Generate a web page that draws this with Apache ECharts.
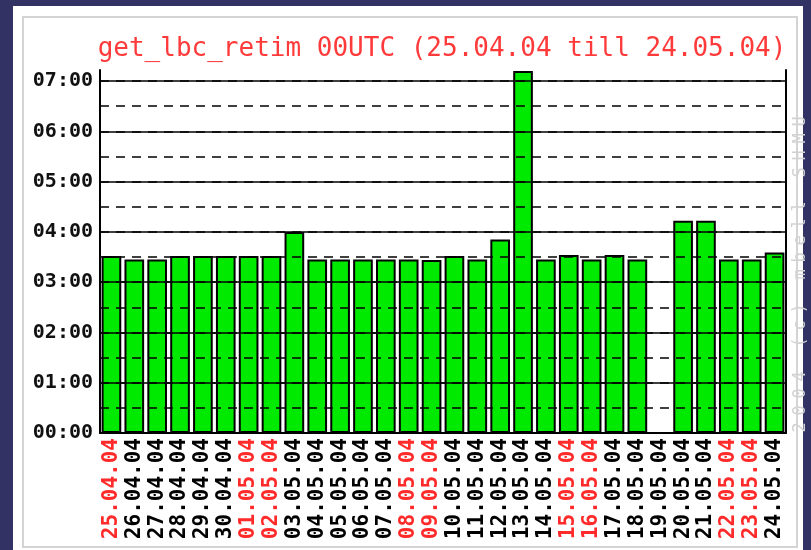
<!DOCTYPE html>
<html>
<head>
<meta charset="utf-8">
<script src="https://cdn.jsdelivr.net/npm/echarts@6/dist/echarts.min.js"></script>
<style>
  body { margin: 0; background: #323264; }
  #panel { position: absolute; left: 13px; top: 6px; width: 790px; height: 544px; background: #fff; }
  #frame { position: absolute; left: 22px; top: 16px; width: 772px; height: 528px; border: 2px solid #d4d4d4; }
  #chart { position: absolute; left: 0; top: 0; width: 811px; height: 550px; }
</style>
</head>
<body>
<div id="panel"></div>
<div id="frame"></div>
<div id="chart"></div>
<script>
// days shown on the x axis
var days = ['25.04.04', '26.04.04', '27.04.04', '28.04.04', '29.04.04', '30.04.04',
  '01.05.04', '02.05.04', '03.05.04', '04.05.04', '05.05.04', '06.05.04', '07.05.04',
  '08.05.04', '09.05.04', '10.05.04', '11.05.04', '12.05.04', '13.05.04', '14.05.04',
  '15.05.04', '16.05.04', '17.05.04', '18.05.04', '19.05.04', '20.05.04', '21.05.04',
  '22.05.04', '23.05.04', '24.05.04'];

// weekend / holiday days drawn in red
var redDays = ['25.04.04', '01.05.04', '02.05.04', '08.05.04', '09.05.04',
  '15.05.04', '16.05.04', '22.05.04', '23.05.04'];

// run time in hours (null = no run)
var hours = [3.52, 3.45, 3.45, 3.52, 3.52, 3.52, 3.52, 3.52, 4.0, 3.45,
  3.45, 3.45, 3.45, 3.45, 3.44, 3.52, 3.45, 3.85, 7.2, 3.45,
  3.54, 3.45, 3.54, 3.45, null, 4.22, 4.22, 3.45, 3.45, 3.59];

var mono = '"DejaVu Sans Mono", "Liberation Mono", monospace';
var copyright = '2004 (c) mbell SHMU';

function hhmm(v) {
  var m = Math.round(v * 60);
  var h = Math.floor(m / 60);
  m = m % 60;
  return (h < 10 ? '0' : '') + h + ':' + (m < 10 ? '0' : '') + m;
}

// spread each character over a fixed width (the old pixel font is wide)
function spaced(s) {
  return s.split('').map(function (c) { return '{c|' + c + '}'; }).join('');
}

var xData = days.map(function (d) {
  return {
    value: d,
    textStyle: { color: redDays.indexOf(d) >= 0 ? '#ff2a2a' : '#000' }
  };
});

var chart = echarts.init(document.getElementById('chart'));
chart.setOption({
  animation: false,
  title: {
    text: 'get_lbc_retim 00UTC (25.04.04 till 24.05.04)',
    left: 437,
    textAlign: 'center',
    top: 31,
    textStyle: { color: '#ff3a3a', fontFamily: mono, fontSize: 26, fontWeight: 'normal' }
  },
  grid: { left: 100, right: 25, top: 70, bottom: 117 },
  xAxis: {
    type: 'category',
    data: xData,
    axisLine: { lineStyle: { color: '#000', width: 2 } },
    axisTick: { show: false },
    axisLabel: {
      rotate: 90,
      interval: 0,
      margin: 5,
      fontFamily: mono,
      fontSize: 21,
      fontWeight: 'bold'
    }
  },
  yAxis: [{
    type: 'value',
    min: 0,
    max: 7.22,
    interval: 1,
    z: 5,
    axisLine: { show: true, lineStyle: { color: '#000', width: 2 } },
    axisTick: { show: false },
    axisLabel: {
      showMaxLabel: false,
      margin: 7,
      color: '#111',
      fontFamily: mono,
      fontSize: 20,
      fontWeight: 'bold',
      formatter: hhmm
    },
    splitLine: { show: true, showMaxLine: false, lineStyle: { color: '#000', width: 1.5 } }
  }, {
    type: 'value',
    position: 'right',
    min: 0,
    max: 7.22,
    interval: 0.5,
    z: 5,
    axisLine: { show: true, lineStyle: { color: '#000', width: 2 } },
    axisTick: { show: false },
    axisLabel: { show: false },
    splitLine: {
      show: true, showMaxLine: false, showMinLine: false,
      lineStyle: { color: '#000', width: 1.5, type: [9, 7] }
    }
  }],
  graphic: [{
    type: 'text',
    x: 801,
    y: 436,
    rotation: Math.PI / 2,
    style: {
      text: spaced(copyright),
      fill: '#d2d2d2',
      font: '17px ' + mono,
      align: 'left',
      verticalAlign: 'middle',
      rich: { c: { width: 17, align: 'center', fill: '#d2d2d2', font: '17px ' + mono } }
    }
  }],
  series: [{
    type: 'bar',
    data: hours,
    barCategoryGap: '14%',
    itemStyle: { color: '#00ea00', borderColor: '#000', borderWidth: 2 }
  }]
});
</script>
</body>
</html>
